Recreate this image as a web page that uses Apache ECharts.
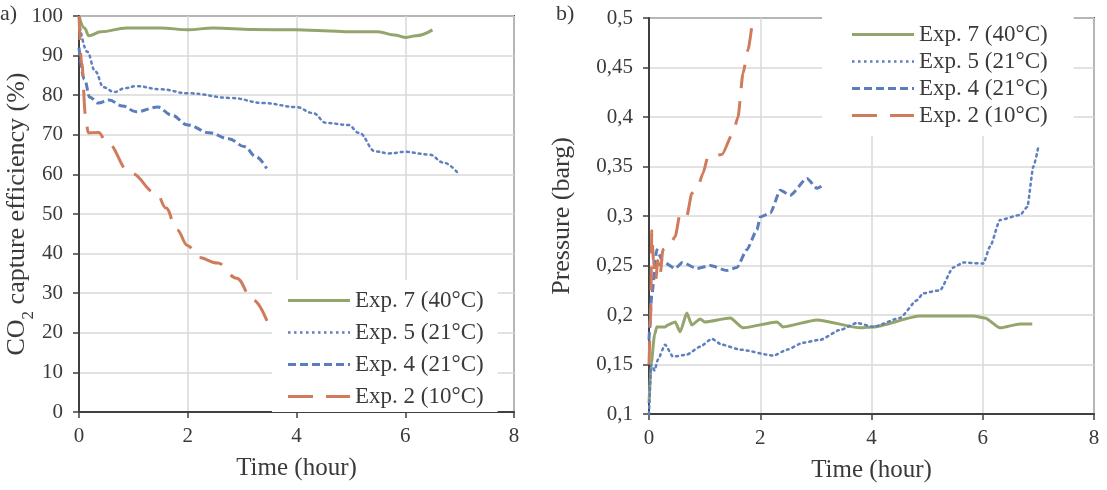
<!DOCTYPE html>
<html>
<head>
<meta charset="utf-8">
<script src="https://cdn.jsdelivr.net/npm/echarts@6/dist/echarts.min.js"></script>
<style>
  html, body { margin: 0; padding: 0; background: #fff; }
  #chart { width: 1107px; height: 490px; }
</style>
</head>
<body>
<div id="chart"></div>
<script>
// series names
var names = ["Exp. 7 (40°C)", "Exp. 5 (21°C)", "Exp. 4 (21°C)", "Exp. 2 (10°C)"];
var timeTicks = [0, 2, 4, 6, 8];

// a) CO2 capture efficiency (%) vs time (hour)
var effExp7 = [[0,100],[0.1,97],[0.18,95],[0.4,96],[0.88,97],[1.5,97],[2,96.5],[2.47,97],[3.2,96.6],[4,96.5],[4.5,96.3],[5,96],[5.5,96],[5.8,95.2],[6,94.6],[6.2,95],[6.5,96.5]];
var effExp5 = [[0.02,97],[0.15,91],[0.3,86],[0.45,82],[0.65,80.8],[0.85,81.8],[1.05,82.3],[1.5,81.5],[2,80.5],[2.8,79.3],[3.4,78],[4,77],[4.3,75.5],[4.55,73],[4.95,72.5],[5.15,70.5],[5.45,65.8],[5.7,65.3],[6,65.7],[6.45,65],[6.7,63],[6.97,60.3]];
var effExp4 = [[0,92],[0.1,84],[0.2,79.5],[0.35,78],[0.55,78.8],[0.8,77.3],[1.05,75.8],[1.45,77],[1.7,75],[2,72.5],[2.4,70.5],[2.75,69],[3.05,67],[3.25,64.5],[3.45,61.5]];
var effExp2 = [[0,100],[0.05,88],[0.12,75],[0.17,70.5],[0.36,70.6],[0.5,68.3],[0.95,60.3],[1.43,55.2],[1.6,51.5],[1.8,46],[2,42],[2.2,39],[2.55,37.6],[2.9,33.8],[3.2,28.3],[3.5,21.5]];

// b) Pressure (barg) vs time (hour)
var presExp7 = [[0,0.111],[0.04,0.151],[0.1,0.18],[0.14,0.188],[0.29,0.188],[0.34,0.19],[0.47,0.193],[0.56,0.183],[0.68,0.202],[0.77,0.19],[0.92,0.196],[1.0,0.193],[1.46,0.197],[1.69,0.187],[2.3,0.193],[2.41,0.188],[3.02,0.195],[3.8,0.187],[4.03,0.188],[4.87,0.199],[5.83,0.199],[6.04,0.197],[6.31,0.187],[6.67,0.191],[6.89,0.191]];
var presExp5 = [[0,0.1],[0.04,0.15],[0.1,0.144],[0.16,0.155],[0.29,0.17],[0.43,0.158],[0.68,0.16],[0.92,0.168],[1.13,0.176],[1.31,0.17],[1.64,0.165],[2.24,0.159],[2.48,0.165],[2.77,0.172],[3.08,0.175],[3.44,0.185],[3.74,0.192],[4.03,0.188],[4.51,0.197],[4.82,0.215],[4.93,0.222],[5.23,0.225],[5.47,0.248],[5.65,0.253],[6.01,0.252],[6.13,0.269],[6.31,0.296],[6.67,0.301],[6.8,0.309],[6.91,0.35],[7.0,0.37]];
var presExp4 = [[0,0.175],[0.05,0.22],[0.14,0.266],[0.25,0.254],[0.47,0.247],[0.6,0.253],[0.86,0.247],[1.1,0.25],[1.4,0.245],[1.58,0.248],[1.76,0.266],[1.94,0.286],[2.0,0.299],[2.18,0.303],[2.36,0.326],[2.54,0.321],[2.84,0.338],[3.02,0.328],[3.1,0.33]];
var presExp2 = [[0,0.15],[0.03,0.2],[0.05,0.285],[0.08,0.255],[0.12,0.235],[0.16,0.255],[0.2,0.24],[0.25,0.266],[0.35,0.268],[0.47,0.279],[0.56,0.303],[0.68,0.3],[0.77,0.323],[0.86,0.326],[0.97,0.343],[1.06,0.36],[1.31,0.362],[1.51,0.384],[1.6,0.40],[1.69,0.444],[1.78,0.468],[1.88,0.5],[1.92,0.52]];

var font = "Liberation Serif";
var txt = "#3a3a3a";
var colors = ["#93a56c", "#5f7fbe", "#5b7dbb", "#cf7b5c"];
var lineTypes = ["solid", [2, 4], [8, 4], [24, 13]];
var widths = [3, 2.5, 3, 3];
// legend icon dash patterns (dash, gap) over a 62px wide icon
var iconDash = [[62, 0], [2.5, 3.5], [8, 4], [25, 13]];

function iconPath(p, h) {
  var d = "", x = 0;
  while (x < 62) {
    var e = Math.min(x + p[0], 62);
    d += "M" + x + ",0H" + e + "V" + h + "H" + x + "Z";
    x = e + p[1];
  }
  return "path://" + d;
}

var dom = document.getElementById("chart");
var myChart = echarts.init(dom);

function xAx(gi) {
  return {
    type: "value", gridIndex: gi, min: 0, max: 8, interval: 2,
    name: "Time (hour)", nameLocation: "middle", nameGap: 44,
    nameTextStyle: { fontFamily: font, fontSize: 25, color: txt },
    axisLine: { lineStyle: { color: "#404040", width: 2 } },
    axisTick: { show: true, length: 6, lineStyle: { color: "#404040", width: 1.5 } },
    axisLabel: { fontFamily: font, fontSize: 21, color: txt, margin: 14 },
    splitLine: { show: true, lineStyle: { color: "#d9d9d9", width: 1.5 } }
  };
}

function makeSeries(datas, xi, smooth) {
  return datas.map(function (d, i) {
    return {
      name: names[i], type: "line", xAxisIndex: xi, yAxisIndex: xi,
      data: d, symbol: "none", smooth: smooth, smoothMonotone: "x",
      z: 3 + i,
      lineStyle: { color: colors[i], width: widths[i], type: lineTypes[i], cap: i == 1 ? "round" : "butt" },
      itemStyle: { color: colors[i] }
    };
  });
}

var legendText = { fontFamily: font, fontSize: 23, color: txt };
var legendData = names.map(function (n, i) {
  return { name: n, icon: iconPath(iconDash[i], widths[i]) };
});

var option = {
  animation: false,
  backgroundColor: "#fff",
  grid: [
    { left: 79, right: 593, top: 16, bottom: 78, show: true, borderColor: "#505050", borderWidth: 2, outerBoundsMode: "none", containLabel: false },
    { left: 649, right: 13, top: 18, bottom: 76, show: true, borderColor: "#505050", borderWidth: 2, outerBoundsMode: "none", containLabel: false }
  ],
  xAxis: [xAx(0), xAx(1)],
  yAxis: [
    {
      type: "value", gridIndex: 0, min: 0, max: 100, interval: 10,
      name: "{a|CO}{s|2}{a| capture efficiency (%)}", nameLocation: "middle", nameGap: 47,
      nameMoveOverlap: false,
      nameTextStyle: { rich: {
        a: { fontFamily: font, fontSize: 26, color: txt, lineHeight: 30 },
        s: { fontFamily: font, fontSize: 17, color: txt, verticalAlign: "bottom", lineHeight: 30, padding: [0, 0, -5, 0] }
      } },
      axisLine: { show: true, lineStyle: { color: "#404040", width: 2 } },
      axisTick: { show: true, length: 6, lineStyle: { color: "#404040", width: 1.5 } },
      axisLabel: { fontFamily: font, fontSize: 21, color: txt, margin: 16 },
      splitLine: { lineStyle: { color: "#d9d9d9", width: 1.5 } }
    },
    {
      type: "value", gridIndex: 1, min: 0.1, max: 0.5, interval: 0.05,
      name: "Pressure (barg)", nameLocation: "middle", nameGap: 74,
      nameTextStyle: { fontFamily: font, fontSize: 26, color: txt },
      axisLine: { show: true, lineStyle: { color: "#404040", width: 2 } },
      axisTick: { show: true, length: 6, lineStyle: { color: "#404040", width: 1.5 } },
      axisLabel: { fontFamily: font, fontSize: 21, color: txt, margin: 16,
        formatter: function (v) { return String(+v.toFixed(2)).replace(".", ","); } },
      splitLine: { lineStyle: { color: "#d9d9d9", width: 1.5 } }
    }
  ],
  legend: [
    {
      data: legendData, orient: "vertical", left: 272, top: 280,
      itemWidth: 62, itemHeight: 3, itemGap: 9,
      itemStyle: { borderWidth: 0 }, lineStyle: { width: 0 },
      padding: [9, 14, 4, 16], backgroundColor: "#fff",
      textStyle: legendText, selectedMode: false
    },
    {
      data: legendData, orient: "vertical", left: 822, top: 17,
      itemWidth: 62, itemHeight: 3, itemGap: 4,
      itemStyle: { borderWidth: 0 }, lineStyle: { width: 0 },
      padding: [6, 26, 9, 30], backgroundColor: "#fff",
      textStyle: legendText, selectedMode: false
    }
  ],
  graphic: [
    { type: "text", left: 0, top: 3, style: { text: "a)", fontFamily: font, fontSize: 22, fill: txt } },
    { type: "text", left: 556, top: 3, style: { text: "b)", fontFamily: font, fontSize: 22, fill: txt } }
  ],
  series: makeSeries([effExp7, effExp5, effExp4, effExp2], 0, 0.4)
    .concat(makeSeries([presExp7, presExp5, presExp4, presExp2], 1, 0.2))
};

if (option && typeof option === "object") {
  myChart.setOption(option);
}
</script>
</body>
</html>
